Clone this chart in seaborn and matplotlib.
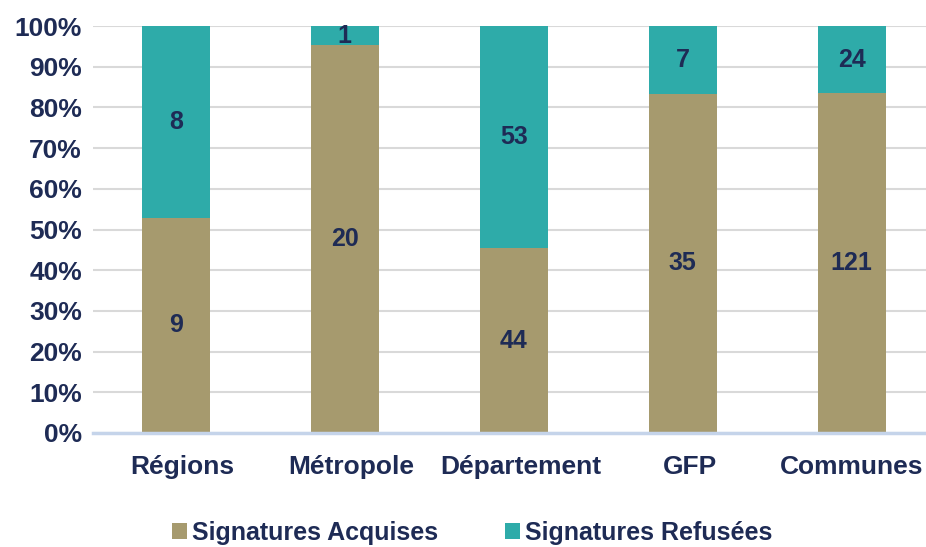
import matplotlib
matplotlib.use("Agg")
import matplotlib.pyplot as plt
import seaborn as sns
import pandas as pd
import numpy as np
from matplotlib.patches import Patch

categories = ["Régions", "Métropole", "Département", "GFP", "Communes"]
acquises = [9, 20, 44, 35, 121]
refusees = [8, 1, 53, 7, 24]
yticks = [0, 0.1, 0.2, 0.3, 0.4, 0.5, 0.6, 0.7, 0.8, 0.9, 1.0]
ytick_labels = ["0%", "10%", "20%", "30%", "40%", "50%", "60%", "70%", "80%", "90%", "100%"]

c_acq = "#A69A6E"
c_ref = "#2EABA9"
c_text = "#1E2B55"

sns.set_theme(style="white")
plt.rcParams['font.family'] = ['Liberation Sans', 'DejaVu Sans']
plt.rcParams['font.weight'] = 'bold'

acq = np.array(acquises, dtype=float)
ref = np.array(refusees, dtype=float)
tot = acq + ref
df = pd.DataFrame({"cat": categories, "acq": acq / tot, "ref": ref / tot, "total": 1.0})

fig = plt.figure(figsize=(9.26, 5.47), dpi=100)
ax = fig.add_axes([93 / 926, 1 - 433 / 547, 845 / 926, 407 / 547])

sns.barplot(data=df, x="cat", y="total", color=c_ref, width=0.4, ax=ax, zorder=3,
            saturation=1, linewidth=0)
sns.barplot(data=df, x="cat", y="acq", color=c_acq, width=0.4, ax=ax, zorder=4,
            saturation=1, linewidth=0)

for i in range(len(categories)):
    pa = df["acq"].iloc[i]
    ax.text(i, pa / 2, str(acquises[i]), ha="center", va="center", fontsize=18,
            fontweight="bold", color=c_text, zorder=5)
    ax.text(i, pa + (1 - pa) / 2, str(refusees[i]), ha="center", va="center", fontsize=18,
            fontweight="bold", color=c_text, zorder=5)

ax.set_xlim(-0.49, 4.51)
ax.set_ylim(0, 1.0)
ax.set_yticks(yticks)
ax.set_yticklabels(ytick_labels, fontsize=19, fontweight="bold", color=c_text)
label_shift = np.array([0.04, 0.04, 0.04, 0.04, 0.0])
ax.set_xticks(np.arange(len(categories)) + label_shift)
ax.set_xticklabels(categories, fontsize=19, fontweight="bold", color=c_text)
ax.tick_params(axis="both", length=0)
ax.tick_params(axis="y", pad=8)
ax.tick_params(axis="x", pad=16)
ax.set_xlabel("")
ax.set_ylabel("")
ax.yaxis.grid(True, color="#D9D9D9", linewidth=1.5, zorder=0)
ax.set_axisbelow(True)
for s in ["top", "right", "left"]:
    ax.spines[s].set_visible(False)
ax.spines["bottom"].set_color("#C5D4EA")
ax.spines["bottom"].set_linewidth(2.5)
ax.spines["bottom"].set_zorder(6)

handles = [Patch(facecolor=c_acq, edgecolor="none", label="Signatures Acquises"),
           Patch(facecolor=c_ref, edgecolor="none", label="Signatures Refusées")]
leg = fig.legend(handles=handles, loc="center", bbox_to_anchor=(472 / 926, 14 / 547),
                 ncol=2, frameon=False, fontsize=18, handlelength=0.6, handleheight=0.6,
                 handletextpad=0.2, columnspacing=2.7, borderaxespad=0)
for t in leg.get_texts():
    t.set_color(c_text)
    t.set_fontweight("bold")

fig.savefig("out.png", dpi=100)
